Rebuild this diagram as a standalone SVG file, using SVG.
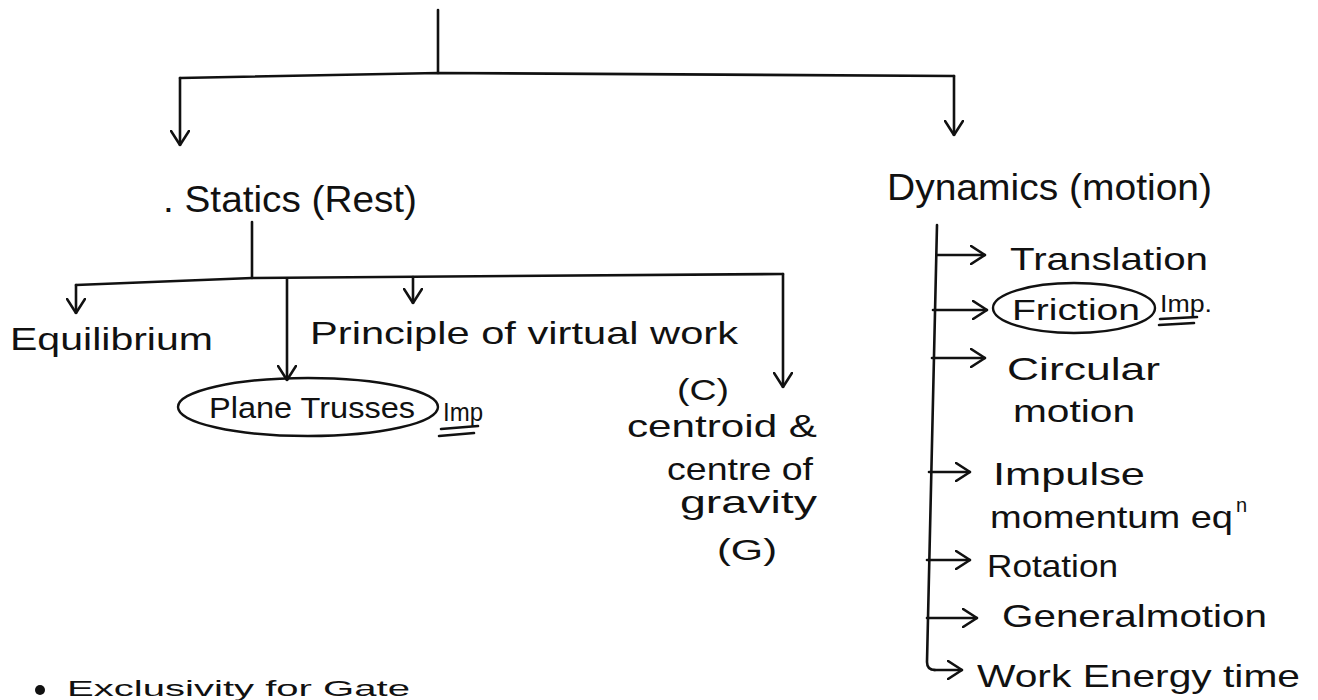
<svg xmlns="http://www.w3.org/2000/svg" width="1318" height="700" viewBox="0 0 1318 700">
<style>
text{font-family:"Liberation Sans","DejaVu Sans",sans-serif;fill:#111;}
.l{fill:none;stroke:#111;stroke-width:2.6;stroke-linecap:round;stroke-linejoin:round;}
.a{marker-end:url(#ah);}
.t36{font-size:36px;}
.t32{font-size:32px;}
.t30{font-size:30px;}
.t26{font-size:26px;}
.t20{font-size:20px;}
.ov{fill:none;stroke:#111;stroke-width:2.4;}
</style>
<defs>
<marker id="ah" viewBox="0 0 16 20" refX="15" refY="10" markerWidth="16" markerHeight="20" markerUnits="userSpaceOnUse" orient="auto">
<path d="M1,1 L15,10 L1,19" fill="none" stroke="#111" stroke-width="2.6" stroke-linecap="round" stroke-linejoin="round"/>
</marker>
</defs>
<rect width="1318" height="700" fill="#fff"/>
<g id="connectors">
<path class="l" d="M438,10 V73"/>
<path class="l" d="M180,78 L438,73 L954,76"/>
<path class="l a" d="M180,78 V145"/>
<path class="l a" d="M954,76 V135"/>
<path class="l" d="M252,222 V278"/>
<path class="l" d="M76,285 L252,278 L783,274"/>
<path class="l a" d="M76,285 V313"/>
<path class="l a" d="M287,279 V380"/>
<path class="l a" d="M413,277 V303"/>
<path class="l a" d="M783,274 V387"/>
<path class="l" d="M937,225 L927,662 Q927,670 935,670"/>
<path class="l a" d="M934,670 H962"/>
<path class="l a" d="M937,255 H985"/>
<path class="l a" d="M933,310 H987"/>
<path class="l a" d="M932,358 H985"/>
<path class="l a" d="M929,472 H970"/>
<path class="l a" d="M927,560 H970"/>
<path class="l a" d="M927,618 H977"/>
</g>
<g id="statics"><text class="t36" x="163" y="212" textLength="254" lengthAdjust="spacingAndGlyphs">. Statics (Rest)</text></g>
<g id="dynamics"><text class="t36" x="887" y="200" textLength="325" lengthAdjust="spacingAndGlyphs">Dynamics (motion)</text></g>
<g id="equilibrium"><text class="t32" x="10" y="350" textLength="203" lengthAdjust="spacingAndGlyphs">Equilibrium</text></g>
<g id="virtual-work"><text class="t32" x="310" y="344" textLength="428" lengthAdjust="spacingAndGlyphs">Principle of virtual work</text></g>
<g id="plane-trusses">
<ellipse class="ov" cx="308" cy="407" rx="130" ry="29"/>
<text class="t30" x="209" y="418" textLength="206" lengthAdjust="spacingAndGlyphs">Plane Trusses</text>
<text class="t26" x="443" y="421" textLength="40" lengthAdjust="spacingAndGlyphs">Imp</text>
<path class="l" d="M441,429 L478,426 M439,436 L474,433" stroke-width="2"/>
</g>
<g id="centroid">
<text class="t30" x="677" y="400" textLength="52" lengthAdjust="spacingAndGlyphs">(C)</text>
<text class="t32" x="627" y="437" textLength="190" lengthAdjust="spacingAndGlyphs">centroid &amp;</text>
<text class="t32" x="667" y="480" textLength="146" lengthAdjust="spacingAndGlyphs">centre of</text>
<text class="t32" x="680" y="513" textLength="137" lengthAdjust="spacingAndGlyphs">gravity</text>
<text class="t30" x="717" y="560" textLength="60" lengthAdjust="spacingAndGlyphs">(G)</text>
</g>
<g id="translation"><text class="t32" x="1010" y="270" textLength="198" lengthAdjust="spacingAndGlyphs">Translation</text></g>
<g id="friction">
<ellipse class="ov" cx="1074" cy="308" rx="81" ry="25"/>
<text class="t30" x="1012" y="320" textLength="128" lengthAdjust="spacingAndGlyphs">Friction</text>
<text class="t20" x="1160" y="312" textLength="52" lengthAdjust="spacingAndGlyphs" style="font-size:24px">Imp.</text>
<path class="l" d="M1160,319 L1197,317 M1159,325 L1194,323" stroke-width="2"/>
</g>
<g id="circular">
<text class="t32" x="1007" y="380" textLength="153" lengthAdjust="spacingAndGlyphs">Circular</text>
<text class="t32" x="1013" y="422" textLength="122" lengthAdjust="spacingAndGlyphs">motion</text>
</g>
<g id="impulse">
<text class="t32" x="993" y="485" textLength="152" lengthAdjust="spacingAndGlyphs">Impulse</text>
<text class="t32" x="990" y="528" textLength="243" lengthAdjust="spacingAndGlyphs">momentum eq</text>
<text class="t20" x="1236" y="512">n</text>
</g>
<g id="rotation"><text class="t32" x="987" y="577" textLength="131" lengthAdjust="spacingAndGlyphs">Rotation</text></g>
<g id="general-motion"><text class="t32" x="1002" y="627" textLength="265" lengthAdjust="spacingAndGlyphs">Generalmotion</text></g>
<g id="work-energy"><text class="t32" x="977" y="687" textLength="323" lengthAdjust="spacingAndGlyphs">Work Energy time</text></g>
<g id="note">
<circle cx="40" cy="690" r="5" fill="#111"/>
<text x="67" y="696" textLength="343" lengthAdjust="spacingAndGlyphs" style="font-size:22px">Exclusivity for Gate</text>
</g>
</svg>
